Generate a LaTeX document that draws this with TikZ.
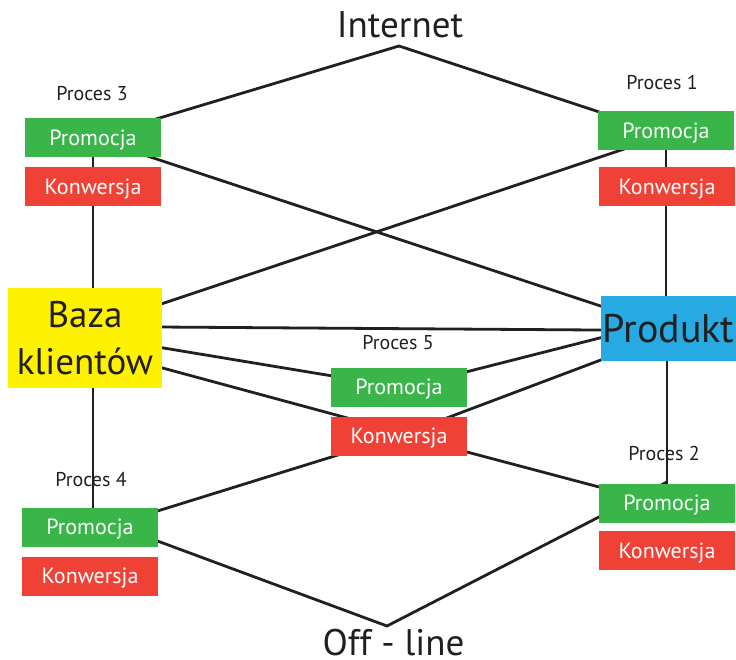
\documentclass[tikz,border=0pt]{standalone}
\usepackage{fontspec}
\setmainfont{PT Sans}
\usepackage{tikz}
\usetikzlibrary{backgrounds}
\usetikzlibrary{calc}
\definecolor{ink}{RGB}{35,31,32}
\definecolor{promogreen}{RGB}{57,181,74}
\definecolor{konwred}{RGB}{239,65,54}
\definecolor{bazayellow}{RGB}{255,242,0}
\definecolor{produktblue}{RGB}{39,170,225}
\tikzstyle{promo}=[rectangle,
fill=promogreen,
text=white,
minimum width=136pt,
minimum height=39pt,
inner sep=0pt,
text depth=0pt,
font=\fontsize{22}{26}\selectfont]
\tikzstyle{konw}=[rectangle,
fill=konwred,
text=white,
minimum width=136pt,
minimum height=39pt,
inner sep=0pt,
text depth=0pt,
font=\fontsize{22}{26}\selectfont]
\tikzstyle{proces}=[anchor=base,
text=ink,
inner sep=0pt,
font=\fontsize{20}{24}\selectfont]
\tikzstyle{channel}=[anchor=base,
text=ink,
inner sep=0pt,
font=\fontsize{37}{44}\selectfont]
\tikzstyle{link}=[draw=ink,
line width=2.8pt]

\begin{document}
\begin{tikzpicture}[x=1pt,y=-1pt]
	\useasboundingbox (0,0) rectangle (736,660);

	% The two central blocks
	\node (baza) [rectangle, fill=bazayellow, text=ink, minimum width=154pt,
	minimum height=99pt, inner sep=0pt, align=center,
	font=\fontsize{37}{47}\selectfont] at (85,338) {Baza\\klientów};
	\node (produkt) [rectangle, fill=produktblue, text=ink, minimum width=135pt,
	minimum height=65pt, inner sep=0pt, text depth=0pt,
	font=\fontsize{40}{48}\selectfont] at (668.5,328.5) {Produkt};

	% Channels
	\node (internet) [channel] at (400,37.7) {Internet};
	\node (offline)  [channel] at (393.5,655) {Off - line};
	\coordinate (inet) at (399,46);
	\coordinate (offl) at (387,626);

	% Processes: label, Promocja, Konwersja
	\node (p1) [proces] at (662,89.3)  {Proces 1};
	\node (p1prom) [promo] at (666,131) {Promocja};
	\node (p1konw) [konw]  at (667,187) {Konwersja};

	\node (p2) [proces] at (664,460)   {Proces 2};
	\node (p2prom) [promo] at (667,503) {Promocja};
	\node (p2konw) [konw]  at (667,550.5) {Konwersja};

	\node (p3) [proces] at (92,100.7)  {Proces 3};
	\node (p3prom) [promo] at (93,138) {Promocja};
	\node (p3konw) [konw]  at (93,187) {Konwersja};

	\node (p4) [proces] at (91,486.7)  {Proces 4};
	\node (p4prom) [promo] at (90,527) {Promocja};
	\node (p4konw) [konw]  at (90,576) {Konwersja};

	\node (p5) [proces] at (398,349.3) {Proces 5};
	\node (p5prom) [promo] at (399,387) {Promocja};
	\node (p5konw) [konw]  at (399,436) {Konwersja};

	% Connections go behind the boxes
	\begin{pgfonlayer}{background}
	% Internet branch
	\draw[link] (p3prom.center) -- (inet) -- ([yshift=-3pt]p1prom.center);
	% Off-line branch
	\draw[link] ([yshift=11pt]p4prom.center) -- (offl) -- ([yshift=21pt]p2prom.center);

	% cross links between the two blocks
	\draw[link] (p3prom.center) -- (produkt.center);
	\draw[link] ([yshift=-4pt]p1prom.center) -- ([yshift=8.5pt]baza.center);
	\draw[link] ([yshift=11.5pt]baza.center) -- ([yshift=-2pt]produkt.center);

	% Proces 5
	\draw[link] ([yshift=3pt]baza.center) -- (p5prom.center);
	\draw[link] ([yshift=-9pt]baza.center) -- ([yshift=4pt]p5konw.center);
	\draw[link] ([yshift=8pt]produkt.center) -- ([yshift=-2pt]p5prom.center);
	\draw[link] ([yshift=-6pt]produkt.center) -- (p5konw.center);
	\draw[link] ([yshift=-5pt]p4prom.center) -- (p5konw.center);
	\draw[link] ([yshift=2pt]p5konw.center) -- ([yshift=-2pt]p2prom.center);

	% vertical links
	\draw[link] (p3prom.center) -- (p3prom.center |- baza.center);
	\draw[link] (p1prom.center) -- (p1prom.center |- produkt.center);
	\draw[link] ($(baza.center)+(8,0)$) -- ($(p4prom.center)+(3,0)$);
	\draw[link] (p2prom.center) -- (p2prom.center |- produkt.center);
	\end{pgfonlayer}
\end{tikzpicture}
\end{document}
